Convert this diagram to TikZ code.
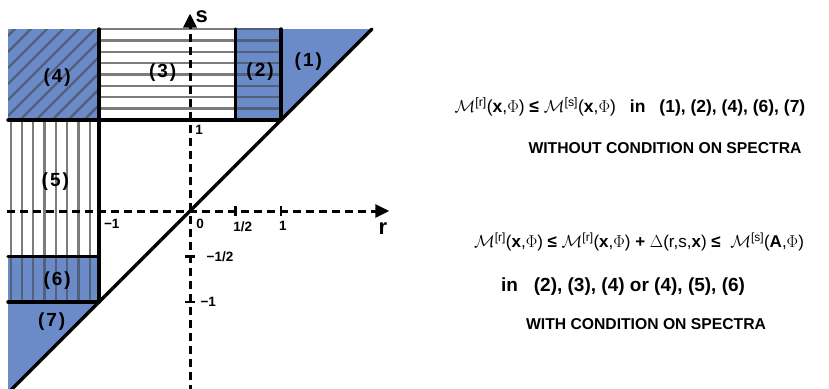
\documentclass[tikz,border=0pt]{standalone}
\usepackage{fontspec}
\setmainfont{Liberation Sans}
\usetikzlibrary{arrows.meta}
\definecolor{fillblue}{HTML}{6B8AC8}
\definecolor{hatchw}{HTML}{7C7C7C}
\definecolor{hatchb}{HTML}{52607C}
\newcommand{\MMa}[1]{$\mathcal{M}$\textsuperscript{\mdseries[#1]}}
\newcommand{\argp}[1]{{\mdseries(}\textbf{#1}{\mdseries,}$\Phi${\mdseries)}}
\newcommand{\rl}[1]{(\kern2pt#1\kern2pt)}
\begin{document}
\begin{tikzpicture}[x=1pt,y=-1pt,
  border/.style={line width=3.4pt, line cap=round},
  axisline/.style={line width=3pt, dash pattern=on 8pt off 5pt, -{Triangle[length=14pt,width=13pt]}},
  tickline/.style={line width=2.6pt},
  hw/.style={line width=2.4pt, color=hatchw},
  hb/.style={line width=2.4pt, color=hatchb},
  reglab/.style={font=\fontsize{19}{22}\selectfont\bfseries, inner sep=0pt},
  ticklab/.style={font=\fontsize{13.5}{15}\selectfont\bfseries, inner sep=0pt},
  axlab/.style={font=\fontsize{22}{24}\selectfont\bfseries, inner sep=0pt},
  txt/.style={font=\fontsize{15.7}{18}\selectfont\bfseries, inner sep=0pt},
  frm/.style={font=\fontsize{17}{20}\selectfont\bfseries, inner sep=0pt},
  inl/.style={font=\fontsize{19}{22}\selectfont\bfseries, inner sep=0pt}]
\useasboundingbox (0,0) rectangle (829,388);
\clip (0,0) rectangle (829,388);
\begin{scope}[shift={(190,211)}, x=91pt, y=91pt]
  % fills
  \fill[fillblue] (-2,1) rectangle (-1,2);
  \fill[fillblue] (0.5,1) rectangle (1,2);
  \fill[fillblue] (1,1) -- (2,2) -- (1,2) -- cycle;
  \fill[fillblue] (-2,-1) rectangle (-1,-0.5);
  \fill[fillblue] (-2,-1) -- (-1,-1) -- (-2,-2) -- cycle;
  % hatch of (4)
  \begin{scope}
    \clip (-2,1) rectangle (-1,2);
    \foreach \c in {-4.1,-3.924,...,-1.8}
      \draw[hb] (-2,-2-\c) -- (-1,-1-\c);
  \end{scope}
  % hatch of (3) and (2)
  \foreach \k in {0,...,7} {
    \draw[hw] (-1,2-\k/8) -- (0.5,2-\k/8);
    \draw[hb] (0.5,2-\k/8) -- (1,2-\k/8);
  }
  % hatch of (5) and (6)
  \foreach \k in {0,...,7} {
    \draw[hw] (-1.97+\k*0.124,1) -- (-1.97+\k*0.124,-0.5);
    \draw[hb] (-1.97+\k*0.124,-0.5) -- (-1.97+\k*0.124,-1);
  }
  % borders
  \draw[border] (-2,1) -- (1,1);
  \draw[border] (-1,2) -- (-1,-1);
  \draw[border] (0.5,2) -- (0.5,1);
  \draw[border] (1,2) -- (1,1);
  \draw[border] (-2,-0.5) -- (-1,-0.5);
  \draw[border] (-2,-1) -- (-1,-1);
  \draw[border] (-2.2,-2.2) -- (2,2);
  % axes
  \coordinate (sbot) at (0,-2.0);
  \coordinate (stop) at (0,2.17);
  \coordinate (rleft) at (-2.01,0);
  \coordinate (rright) at (2.19,0);
  \draw[axisline] (sbot) -- (stop);
  \draw[axisline] (rleft) -- (rright);
  % ticks
  \draw[tickline] (0.5,-0.055) -- (0.5,0.055);
  \draw[tickline] (1,-0.055) -- (1,0.055);
  \draw[tickline] (-0.05,-0.5) -- (0.05,-0.5);
  \draw[tickline] (-0.05,-1) -- (0.05,-1);
  % axis labels
  \node[axlab] (slab) at (0.13,2.13) {s};
  \node[axlab] (rlab) at (2.12,-0.19) {r};
  \node[ticklab] (t1s) at (0.10,0.89) {1};
  \node[ticklab] (tm1r) at (-0.86,-0.143) {−1};
  \node[ticklab] (t0) at (0.11,-0.143) {0};
  \node[ticklab] (th) at (0.58,-0.17) {1/2};
  \node[ticklab] (t1r) at (1.02,-0.16) {1};
  \node[ticklab] (tmh) at (0.33,-0.505) {−1/2};
  \node[ticklab] (tm1s) at (0.2,-1.0) {−1};
  % region labels
  \node[reglab] (r4) at (-1.46,1.47) {\rl{4}};
  \node[reglab] (r3) at (-0.30,1.52) {\rl{3}};
  \node[reglab] (r2) at (0.77,1.53) {\rl{2}};
  \node[reglab] (r1) at (1.30,1.64) {\rl{1}};
  \node[reglab] (r5) at (-1.48,0.32) {\rl{5}};
  \node[reglab] (r6) at (-1.46,-0.76) {\rl{6}};
  \node[reglab] (r7) at (-1.52,-1.22) {\rl{7}};
\end{scope}
% right-hand text
\node[frm, font=\fontsize{17.5}{20}\selectfont\bfseries] (f1) at (630,107) {\MMa{r}\argp{x} ≤ \MMa{s}\argp{x}\hspace{14pt}in\hspace{14pt}(1), (2), (4), (6), (7)};
\node[txt] (w1) at (665,148) {WITHOUT CONDITION ON SPECTRA};
\node[frm] (f2) at (639,242) {\MMa{r}\argp{x} ≤ \MMa{r}\argp{x} + $\Delta${\mdseries(r,s,}x{\mdseries)} ≤ \ \MMa{s}\argp{A}};
\node[inl] (in2) at (623,287) {in\hspace{16pt}(2), (3), (4) or (4), (5), (6)};
\node[txt] (w2) at (646,324) {WITH CONDITION ON SPECTRA};
\end{tikzpicture}
\end{document}
